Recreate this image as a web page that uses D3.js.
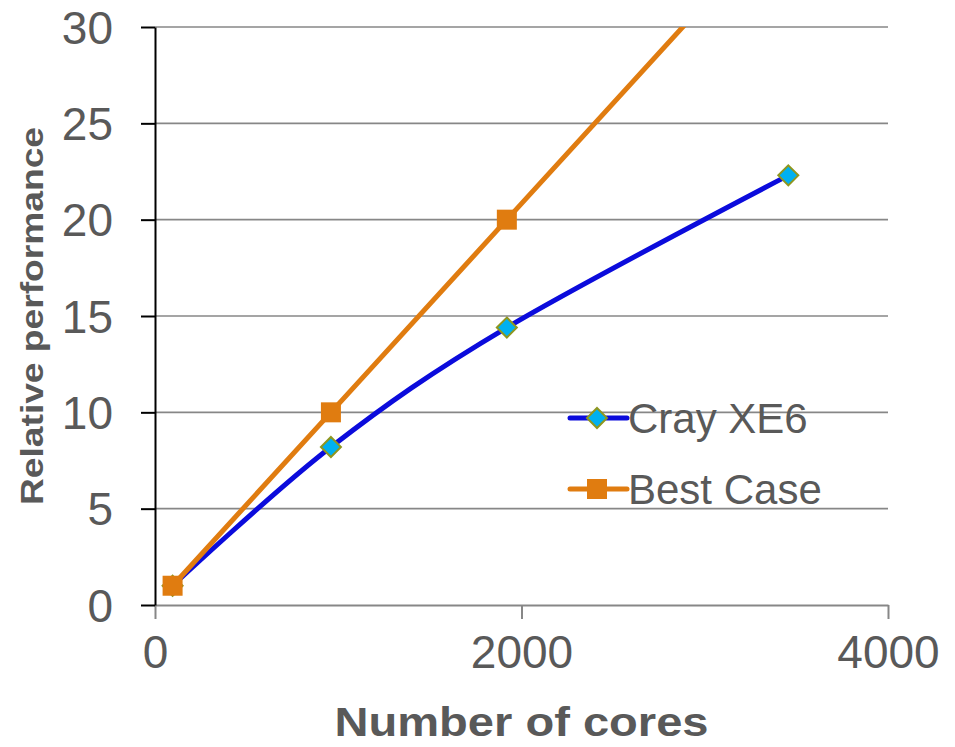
<!DOCTYPE html>
<html>
<head>
<meta charset="utf-8">
<script src="https://cdn.jsdelivr.net/npm/d3@7"></script>
<style>
  html, body { margin: 0; padding: 0; background: #fff; }
  svg { display: block; font-family: Arial, "Liberation Sans", sans-serif; }
</style>
</head>
<body>
<svg id="chart" width="955" height="747"></svg>
<script>
// Core counts and relative performance for each series
const crayCores = [96, 960, 1920, 3456];
const crayPerf = [1, 8.2, 14.4, 22.3];
const bestCores = [96, 960, 1920, 3840];
const bestPerf = [1, 10, 20, 40];

const xTicks = [0, 2000, 4000];
const yTicks = [0, 5, 10, 15, 20, 25, 30];

const seriesNames = ["Cray XE6", "Best Case"];
const xTitle = "Number of cores";
const yTitle = "Relative performance";

const svg = d3.select("#chart");
const plot = { left: 155, right: 888, top: 27, bottom: 605 };

const x = d3.scaleLinear().domain([0, 4000]).range([plot.left, plot.right]);
const y = d3.scaleLinear().domain([0, 30]).range([plot.bottom, plot.top]);

const textColor = "#595959";
const gridColor = "#878787";
const orange = "#E07C10";
const blue = "#0B0BDC";
const cyan = "#00B0F0";
const olive = "#8F961F";

// Horizontal gridlines
svg.append("g")
  .selectAll("line")
  .data(yTicks.filter(d => d > 0))
  .join("line")
  .attr("x1", plot.left).attr("x2", plot.right)
  .attr("y1", d => y(d)).attr("y2", d => y(d))
  .attr("stroke", gridColor).attr("stroke-width", 1.6);

// X axis (grey, ticks pointing down)
const xAxis = svg.append("g")
  .attr("transform", `translate(0,${plot.bottom})`)
  .call(d3.axisBottom(x).tickValues(xTicks).tickFormat(d3.format("d"))
    .tickSize(14).tickSizeOuter(0).tickPadding(16));
xAxis.select(".domain").attr("stroke", gridColor).attr("stroke-width", 2);
xAxis.selectAll(".tick line").attr("stroke", gridColor).attr("stroke-width", 2);
xAxis.selectAll(".tick text")
  .attr("fill", textColor).attr("font-size", 46).attr("font-family", "Arial, 'Liberation Sans', sans-serif")
  .attr("dy", "0.72em");

// Y axis (black, ticks pointing left)
const yAxis = svg.append("g")
  .attr("transform", `translate(${plot.left},0)`)
  .call(d3.axisLeft(y).tickValues(yTicks).tickSize(14).tickSizeOuter(0).tickPadding(28));
yAxis.select(".domain").attr("stroke", "#000").attr("stroke-width", 2);
yAxis.selectAll(".tick line").attr("stroke", "#000").attr("stroke-width", 2);
yAxis.selectAll(".tick text")
  .attr("fill", textColor).attr("font-size", 46).attr("font-family", "Arial, 'Liberation Sans', sans-serif")
  .attr("dy", "0.35em");

// Axis titles
svg.append("text")
  .attr("x", (plot.left + plot.right) / 2).attr("y", 736)
  .attr("text-anchor", "middle")
  .attr("font-size", 40).attr("font-weight", "bold").attr("fill", textColor)
  .attr("textLength", 374).attr("lengthAdjust", "spacingAndGlyphs")
  .text(xTitle);

svg.append("text")
  .attr("transform", `translate(43,${(plot.top + plot.bottom) / 2}) rotate(-90)`)
  .attr("text-anchor", "middle")
  .attr("font-size", 31).attr("font-weight", "bold").attr("fill", textColor)
  .attr("textLength", 378).attr("lengthAdjust", "spacingAndGlyphs")
  .text(yTitle);

// Clip region for series that run past the top of the plot
svg.append("defs").append("clipPath").attr("id", "plotClip")
  .append("rect")
  .attr("x", plot.left - 20).attr("y", plot.top)
  .attr("width", plot.right - plot.left + 40).attr("height", plot.bottom - plot.top + 20);

const best = bestCores.map((c, i) => ({ c, v: bestPerf[i] }));
const cray = crayCores.map((c, i) => ({ c, v: crayPerf[i] }));

const series = svg.append("g").attr("clip-path", "url(#plotClip)");

const sq = 20, dm = 10;
const diamondPath = `M0,${-dm}L${dm},0L0,${dm}L${-dm},0Z`;

// Cray XE6: smoothed line with diamond markers
series.append("path")
  .datum(cray)
  .attr("fill", "none").attr("stroke", blue).attr("stroke-width", 5)
  .attr("d", d3.line().curve(d3.curveCardinal.tension(0)).x(d => x(d.c)).y(d => y(d.v)));

series.append("g").selectAll("path")
  .data(cray)
  .join("path")
  .attr("transform", d => `translate(${x(d.c)},${y(d.v)})`)
  .attr("d", diamondPath)
  .attr("fill", cyan).attr("stroke", olive).attr("stroke-width", 2);

// Best Case: straight segments with square markers, drawn on top
series.append("path")
  .datum(best)
  .attr("fill", "none").attr("stroke", orange).attr("stroke-width", 5)
  .attr("stroke-linejoin", "round")
  .attr("d", d3.line().x(d => x(d.c)).y(d => y(d.v)));

series.append("g").selectAll("rect")
  .data(best.filter(d => d.v <= 30))
  .join("rect")
  .attr("x", d => x(d.c) - sq / 2).attr("y", d => y(d.v) - sq / 2)
  .attr("width", sq).attr("height", sq)
  .attr("fill", orange);

// Legend
const legend = svg.append("g").attr("transform", "translate(568,418)");
const legendItems = legend.selectAll("g")
  .data(seriesNames)
  .join("g")
  .attr("transform", (d, i) => `translate(0,${i * 71})`);

legendItems.append("line")
  .attr("x1", 2).attr("x2", 59).attr("y1", 0).attr("y2", 0)
  .attr("stroke", (d, i) => i === 0 ? blue : orange)
  .attr("stroke-width", 5).attr("stroke-linecap", "round");

legendItems.each(function (d, i) {
  const g = d3.select(this);
  if (i === 0) {
    g.append("path").attr("transform", "translate(29,0)").attr("d", diamondPath)
      .attr("fill", cyan).attr("stroke", olive).attr("stroke-width", 2);
  } else {
    g.append("rect").attr("x", 29 - sq / 2).attr("y", -sq / 2)
      .attr("width", sq).attr("height", sq).attr("fill", orange);
  }
});

legendItems.append("text")
  .attr("x", 60).attr("y", 0).attr("dy", "0.36em")
  .attr("font-size", 42).attr("fill", textColor)
  .text(d => d);
</script>
</body>
</html>
